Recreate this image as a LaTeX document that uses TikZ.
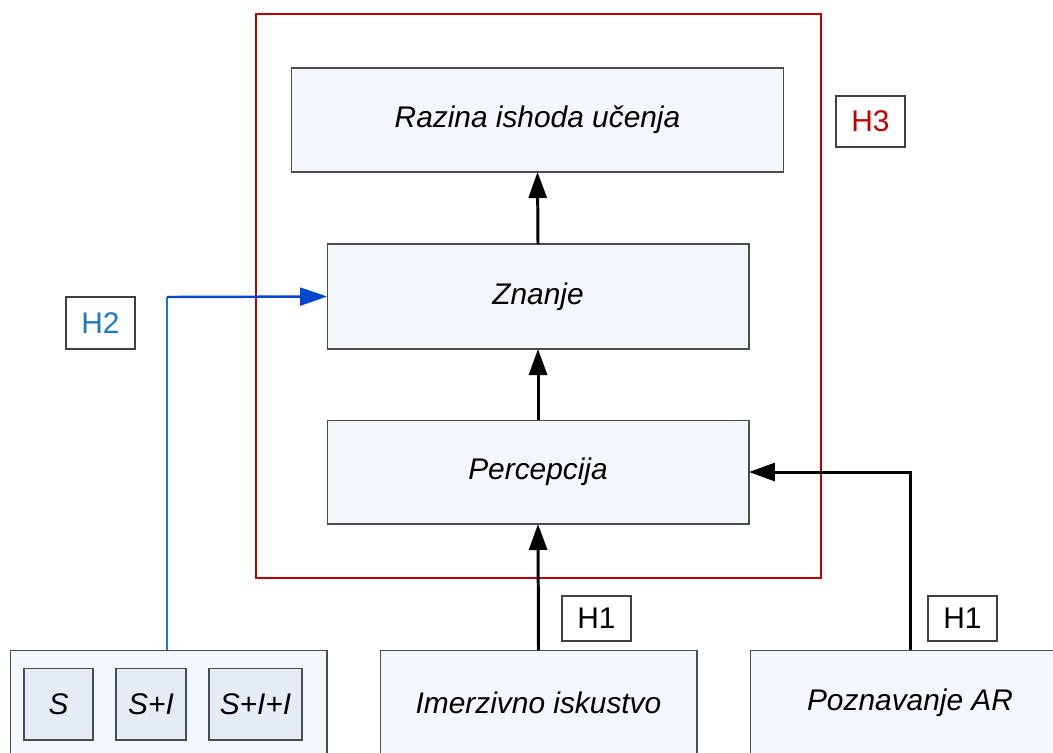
\documentclass[tikz,border=0pt]{standalone}
\usepackage{fontspec}
\setmainfont{Liberation Sans}
\usetikzlibrary{arrows.meta}

\definecolor{boxfill}{HTML}{F3F6FA}
\definecolor{smallfill}{HTML}{E6ECF6}
\definecolor{hthree}{HTML}{C00000}
\definecolor{htwo}{HTML}{1F78C8}
\definecolor{htwodark}{HTML}{0046CF}

\tikzset{
  every picture/.append style={x=0.02cm, y=-0.02cm},
  stage/.style={draw=black!70, fill=boxfill, line width=0.6pt, inner sep=0pt, outer sep=0pt,
    font=\fontsize{17}{20}\selectfont\itshape},
  mode/.style={stage, fill=smallfill, minimum width=1.38cm, minimum height=1.44cm},
  hyp/.style={draw=black!75, fill=white, line width=0.6pt, inner sep=0pt, outer sep=0pt,
    minimum width=1.38cm, font=\fontsize{17}{20}\selectfont},
  flow/.style={line width=1.7pt, -{Triangle[length=0.52cm, width=0.36cm]}},
}

\begin{document}
\begin{tikzpicture}
  \useasboundingbox (0,0) rectangle (1053,752);
  % red frame round the model
  \draw[hthree, line width=1.2pt] (256,14) rectangle (821,578);

  \node[stage, minimum width=9.86cm, minimum height=2.08cm] (ishod) at (537.5,120) {Razina ishoda učenja};
  \node[stage, minimum width=8.44cm, minimum height=2.1cm] (znanje) at (538,296.5) {Znanje};
  \node[stage, minimum width=8.44cm, minimum height=2.08cm] (perc) at (538,472) {Percepcija};

  % inputs
  \node[stage, minimum width=6.34cm, minimum height=2.12cm] (grp) at (168.5,703) {};
  \node[mode] (s) at (58.5,704) {S};
  \node[mode, minimum width=1.4cm] (si) at (151,704) {S+I};
  \node[mode, minimum width=1.86cm] (sii) at (255.5,704) {S+I+I};
  \node[stage, minimum width=6.34cm, minimum height=2.12cm] (imerz) at (538.5,703) {Imerzivno iskustvo};
  \node[stage, minimum width=6.4cm, minimum height=2.12cm] (pozn) at (910,703) {Poznavanje AR};

  % hypotheses
  \node[hyp, minimum height=1.02cm, text=hthree] (h3) at (870.5,121.5) {H3};
  \node[hyp, minimum height=1.04cm, text=htwo] (h2) at (100.5,323) {H2};
  \node[hyp, minimum height=0.9cm] (h1a) at (596.5,618.5) {H1};
  \node[hyp, minimum height=0.9cm] (h1b) at (962.5,618.5) {H1};

  % connectors
  \draw[flow] (znanje.north) -- (ishod.south);
  \draw[flow] (perc.north) -- (znanje.south);
  \draw[flow] (imerz.north) -- (perc.south);
  \draw[flow] (pozn.north) |- (perc.east);

  \coordinate (h2top) at (167,297);
  \draw[htwo, line width=1.4pt] (h2top |- grp.north) -- (h2top);
  \draw[htwodark, line width=1.4pt, -{Triangle[length=0.54cm, width=0.36cm]}] (h2top) -- (znanje.west);
\end{tikzpicture}
\end{document}
